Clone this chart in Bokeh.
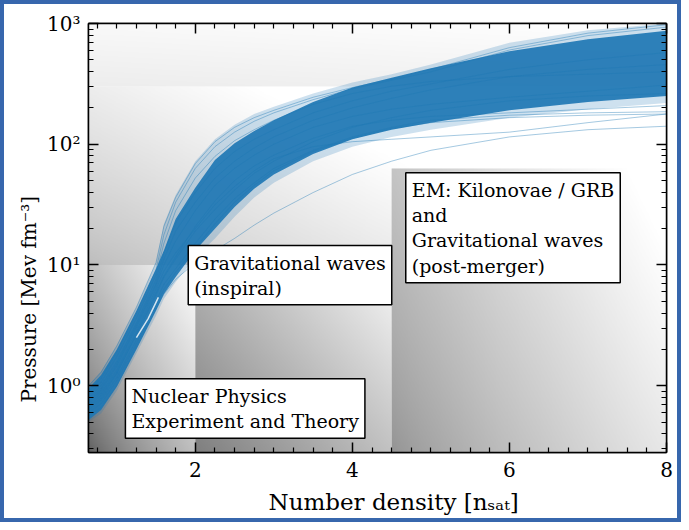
import numpy as np
from bokeh.plotting import figure
from bokeh.models import (LogAxis, LinearAxis, FixedTicker, Label, CustomJSTickFormatter,
                          ColumnDataSource, Range1d, Title)
from bokeh.embed import file_html
from bokeh.resources import INLINE

# ---------------- data ----------------
density = [0.64, 0.8, 1.0, 1.25, 1.5, 1.6, 1.75, 2.0, 2.25, 2.5, 2.75, 3.0,
           3.5, 4.0, 4.5, 5.0, 6.0, 7.0, 8.0]

# dense core of the band of equations of state
core_upper = [0.95, 1.23, 2.0, 4.17, 9.33, 13.2, 24.0, 43.7, 74.1, 102, 129, 158,
              224, 295, 355, 427, 589, 741, 871]
core_lower = [0.52, 0.63, 0.98, 2.0, 4.17, 5.75, 7.94, 13.2, 20.0, 30.2, 42.7, 56.2,
              83.2, 110, 132, 151, 191, 224, 251]

# faint outer halo of the band
halo_upper = [1.0, 1.32, 2.14, 4.47, 10.5, 21.9, 38.0, 72.4, 110, 145, 178, 204,
              263, 324, 380, 457, 692, 881, 1000]
halo_lower = [0.50, 0.59, 0.91, 1.86, 3.80, 5.25, 7.24, 11.5, 16.6, 25.1, 36.3, 47.9,
              72.4, 95.5, 115, 132, 166, 195, 220]

# individual equation-of-state curves that stand out from the band
eos_curves = [
    [0.56, 0.66, 1.0, 2.09, 4.37, 5.75, 7.59, 10.5, 13.2, 16.6, 21.4, 26.9, 39.8, 56.2, 72.4, 89.1, 115, 132, 141],
    [0.71, 0.87, 1.35, 2.82, 6.31, 8.91, 12.6, 20.0, 31.6, 44.7, 60.3, 75.9, 95.5, 105, 110, 115, 126, 151, 178],
    [0.63, 0.76, 1.17, 2.40, 5.01, 6.92, 9.33, 15.1, 24.0, 35.5, 47.9, 63.1, 89.1, 115, 138, 158, 174, 182, 186],
    [0.89, 1.15, 1.91, 3.98, 9.12, 17.8, 33.1, 63.1, 95.5, 126, 155, 182, 234, 288, 339, 398, 603, 794, 933],
    [0.83, 1.07, 1.74, 3.63, 8.32, 15.1, 28.2, 52.5, 79.4, 107, 132, 158, 214, 263, 302, 331, 363, 380, 398],
    [0.76, 0.95, 1.51, 3.16, 7.08, 11.2, 19.1, 33.1, 52.5, 72.4, 93.3, 115, 158, 200, 240, 282, 363, 417, 457],
    [0.60, 0.71, 1.10, 2.24, 4.68, 6.31, 8.71, 13.8, 21.9, 33.1, 45.7, 60.3, 87.1, 112, 135, 151, 166, 174, 178],
    [0.79, 1.0, 1.58, 3.31, 7.59, 12.6, 22.4, 39.8, 63.1, 87.1, 110, 132, 182, 229, 275, 316, 417, 501, 575],
    [0.66, 0.79, 1.26, 2.63, 5.62, 7.94, 11.2, 19.1, 28.8, 41.7, 57.5, 72.4, 105, 138, 166, 191, 229, 251, 263],
    [1.0, 1.29, 2.14, 4.47, 10.5, 20.9, 36.3, 69.2, 105, 138, 166, 191, 245, 295, 347, 417, 631, 832, 977],
    [0.68, 0.83, 1.29, 2.69, 5.89, 8.13, 11.7, 20.9, 33.9, 50.1, 66.1, 81.3, 112, 141, 158, 170, 182, 195, 209],
    [0.74, 0.91, 1.45, 3.02, 6.76, 10.0, 15.8, 28.2, 45.7, 63.1, 81.3, 100, 138, 170, 195, 214, 245, 275, 309],
]

# thin gap visible inside the band at low density
gap_density = [1.25, 1.40, 1.53]
gap_pressure = [2.5, 3.6, 5.4]

x_major_ticks = [2, 4, 6, 8]
y_major_ticks = [1, 10, 100, 1000]

box_texts = ["Nuclear Physics\nExperiment and Theory",
             "Gravitational waves\n(inspiral)",
             "EM: Kilonovae / GRB\nand\nGravitational waves\n(post-merger)"]
box_x = [1.11, 1.91, 4.68]
box_y = [1.14, 14.5, 58]

x_title = "Number density [n\u209b\u2090\u209c]"
y_title = "Pressure [Mev fm\u207b\u00b3]"

# ---------------- figure ----------------
SERIF = "DejaVu Serif"
BLUE = "#1f77b4"

p = figure(width=681, height=522, x_range=Range1d(0.64, 8), y_range=Range1d(0.28, 1000),
           y_axis_type="log", output_backend="svg", toolbar_location=None,
           min_border_left=84, min_border_right=19, min_border_top=19, min_border_bottom=74)
p.styles = {"border": "4px solid #3767ad"}
p.grid.visible = False
p.background_fill_color = "white"
p.border_fill_color = "white"
p.outline_line_color = "black"
p.outline_line_width = 1.5


def grad(nx, ny, g0, g1, wx, wy, gamma=1.0, reach=1.0):
    u = np.linspace(0, 1, nx)[None, :]
    v = np.linspace(0, 1, ny)[:, None]
    t = np.clip((wx * u + wy * v) / (wx + wy) / reach, 0, 1) ** gamma
    g = np.clip((g0 + (g1 - g0) * t) * 255, 0, 255).astype(np.uint8)
    img = np.empty((ny, nx), dtype=np.uint32)
    view = img.view(dtype=np.uint8).reshape((ny, nx, 4))
    view[..., 0] = g
    view[..., 1] = g
    view[..., 2] = g
    view[..., 3] = 255
    return img


# background shaded regions (x0, x1, y0, y1, dark, light, wx, wy, gamma, reach)
regions = [
    (0.64, 8.0, 300, 1000, 0.93, 1.0, 0.5, 1.0, 1.0, 1.0),
    (0.64, 8.0, 10, 300, 0.74, 1.0, 1.0, 0.6, 0.8, 0.55),
    (0.64, 2.0, 0.28, 10, 0.36, 1.0, 1.0, 1.0, 0.7, 1.0),
    (2.0, 4.5, 0.28, 10, 0.50, 0.97, 1.0, 0.8, 1.0, 1.0),
    (4.5, 8.0, 0.28, 63, 0.58, 1.0, 1.0, 0.5, 0.8, 0.9),
]
for x0, x1, y0, y1, g0, g1, wx, wy, gm, rc in regions:
    p.image_rgba(image=[grad(300, 200, g0, g1, wx, wy, gm, rc)], x=x0, y=y0, dw=x1 - x0, dh=y1 - y0)

# band: halo, core, single curves
p.varea(x=density, y1=halo_lower, y2=halo_upper, fill_color=BLUE, fill_alpha=0.22)
p.varea(x=density, y1=core_lower, y2=core_upper, fill_color=BLUE, fill_alpha=0.92)
src = ColumnDataSource(dict(xs=[density] * len(eos_curves), ys=eos_curves))
p.multi_line(xs="xs", ys="ys", source=src, line_color=BLUE, line_alpha=0.4, line_width=1)
p.line(gap_density, gap_pressure, line_color="white", line_alpha=0.8, line_width=1.5)

# text boxes
for t, bx, by in zip(box_texts, box_x, box_y):
    p.add_layout(Label(x=bx, y=by, text=t, anchor="top_left", text_font=SERIF,
                       text_font_size="19px", text_color="black", text_line_height=1.15,
                       border_line_color="black", border_line_width=1.5,
                       background_fill_color="white", background_fill_alpha=1.0,
                       padding=6))

# ---------------- axes ----------------
x_minor = [0.75 + 0.25 * i for i in range(29) if (0.75 + 0.25 * i) not in x_major_ticks]
y_minor = [k * 10.0 ** e for e in range(-1, 3) for k in range(2, 10) if k * 10.0 ** e >= 0.28]
xt = FixedTicker(ticks=x_major_ticks, minor_ticks=x_minor)
yt = FixedTicker(ticks=y_major_ticks, minor_ticks=y_minor)

yfmt = CustomJSTickFormatter(code="""
const s = {"-1": "\u207b\u00b9", "0": "\u2070", "1": "\u00b9", "2": "\u00b2", "3": "\u00b3"};
const e = Math.round(Math.log10(tick));
return "10" + s[String(e)];
""")
empty = CustomJSTickFormatter(code="return '';")


def style_axis(ax):
    ax.axis_line_color = "black"
    ax.axis_line_width = 1.5
    ax.major_tick_line_color = "black"
    ax.major_tick_line_width = 1.5
    ax.minor_tick_line_color = "black"
    ax.minor_tick_line_width = 1.2
    ax.major_tick_in = 10
    ax.major_tick_out = 0
    ax.minor_tick_in = 5
    ax.minor_tick_out = 0
    ax.major_label_text_font = SERIF
    ax.major_label_text_font_size = "20px"
    ax.major_label_text_color = "black"


xa = p.xaxis[0]
xa.ticker = xt
style_axis(xa)
xa.major_label_standoff = 9

ya = p.yaxis[0]
ya.ticker = yt
ya.formatter = yfmt
style_axis(ya)
ya.major_label_standoff = 8

top = LinearAxis(ticker=xt, formatter=empty)
style_axis(top)
top.major_label_standoff = 0
p.add_layout(top, "above")

right = LogAxis(ticker=yt, formatter=empty)
style_axis(right)
right.major_label_standoff = 0
p.add_layout(right, "right")

# axis titles placed as in the reference (shifted from the axis centre)
p.add_layout(Title(text=x_title, align="left", offset=180, standoff=15,
                   text_font=SERIF, text_font_size="23px", text_font_style="normal",
                   text_color="black"), "below")
p.add_layout(Title(text=y_title, align="left", offset=50, standoff=7,
                   text_font=SERIF, text_font_size="20px", text_font_style="normal",
                   text_color="black"), "left")

open("out.html", "w").write(file_html(p, INLINE))
